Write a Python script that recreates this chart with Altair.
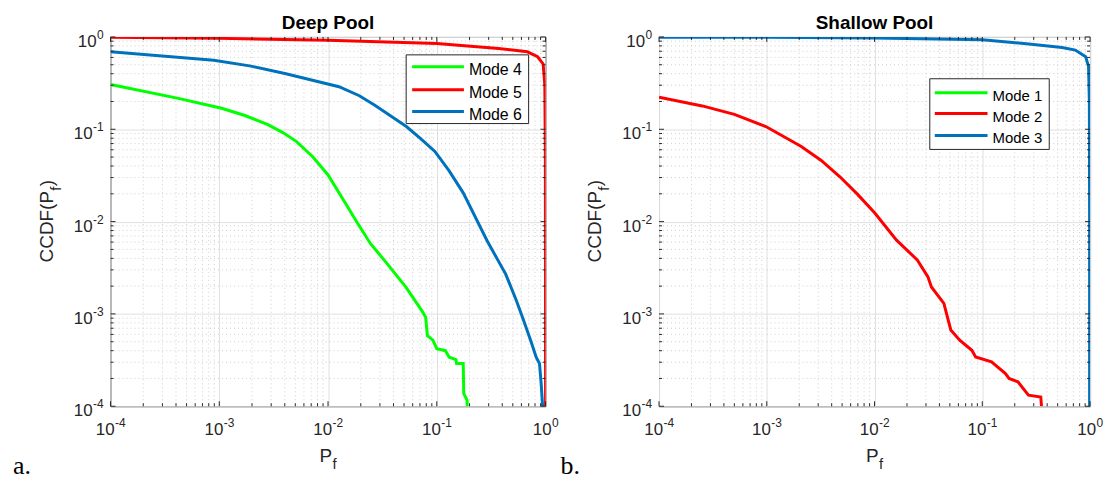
import altair as alt
import pandas as pd

# ---------------- data ----------------
DECADES = [1e-4, 1e-3, 1e-2, 1e-1, 1.0]
EXPONENTS = ["-4", "-3", "-2", "-1", "0"]
MINOR_STEPS = [2, 3, 4, 5, 6, 7, 8, 9]
MINOR = [m * d for d in DECADES[:-1] for m in MINOR_STEPS]

DEEP_TITLE = "Deep Pool"
SHALLOW_TITLE = "Shallow Pool"
DEEP_MODES = ["Mode 4", "Mode 5", "Mode 6"]
SHALLOW_MODES = ["Mode 1", "Mode 2", "Mode 3"]
MODE_COLORS = ["#00ff00", "#ff0000", "#0072bd"]

# Deep pool
mode4_pf = [1e-4, 4.2e-4, 1.05e-3, 1.72e-3, 2.8e-3, 3.84e-3, 5.1e-3, 7.2e-3, 1.0e-2, 1.46e-2,
            1.9e-2, 2.45e-2, 3.3e-2, 5.2e-2, 7.3e-2, 7.9e-2, 8.2e-2, 9.2e-2, 0.1, 0.12, 0.13,
            0.15, 0.152, 0.175, 0.177, 0.19, 0.19]
mode4_ccdf = [0.306, 0.216, 0.169, 0.141, 0.112, 0.092, 0.074, 0.0508, 0.032, 0.0155, 0.0093,
              0.0058, 0.0038, 0.00195, 0.00108, 0.00092, 0.00058, 0.00052, 0.00042, 0.0004,
              0.00034, 0.00032, 0.00029, 0.00029, 0.000137, 0.000116, 0.0001]
mode5_pf = [1e-4, 1e-3, 1e-2, 0.1, 0.37, 0.68, 0.845, 0.95, 0.985, 0.996, 0.999, 1.0]
mode5_ccdf = [0.99, 0.965, 0.92, 0.85, 0.75, 0.69, 0.61, 0.51, 0.30, 0.05, 0.001, 0.0001]
mode6_pf = [1e-4, 8.9e-4, 1.9e-3, 4.1e-3, 1.26e-2, 1.94e-2, 2.67e-2, 5.25e-2, 7.1e-2, 9.6e-2,
            0.129, 0.175, 0.29, 0.43, 0.54, 0.63, 0.73, 0.82, 0.88, 0.91, 0.94]
mode6_ccdf = [0.69, 0.56, 0.486, 0.40, 0.289, 0.231, 0.183, 0.107, 0.079, 0.0575, 0.0359,
              0.0205, 0.0062, 0.0027, 0.00139, 0.000846, 0.000515, 0.00034, 0.00029, 0.00018,
              0.0001]

# Shallow pool
mode2_pf = [1e-4, 2.52e-4, 5.0e-4, 9.8e-4, 2.09e-3, 3.2e-3, 4.77e-3, 7.0e-3, 1.01e-2, 1.6e-2,
            2.5e-2, 3.13e-2, 3.37e-2, 4.4e-2, 4.74e-2, 5.1e-2, 6.17e-2, 8.0e-2, 8.67e-2,
            0.1217, 0.164, 0.177, 0.214, 0.268, 0.349, 0.354]
mode2_ccdf = [0.222, 0.179, 0.145, 0.107, 0.065, 0.046, 0.0306, 0.0196, 0.0123, 0.0063,
              0.00383, 0.00252, 0.00196, 0.0013, 0.00093, 0.00067, 0.00052, 0.000404, 0.000342,
              0.000302, 0.000226, 0.0002, 0.000184, 0.000132, 0.000126, 0.0001]
mode3_pf = [1e-4, 1e-3, 1e-2, 0.1, 0.27, 0.55, 0.73, 0.91, 0.968, 0.985, 0.99, 0.99]
mode3_ccdf = [0.995, 0.99, 0.975, 0.93, 0.84, 0.77, 0.72, 0.61, 0.48, 0.2, 0.01, 0.0001]

# ---------------- styling ----------------
FONT = "Liberation Sans"
AX = "#262626"
ONE = pd.DataFrame({"k": [0]})
BASE_FS, EXP_FS = 17, 12
BASE_W = 18.9  # width of "10" at BASE_FS


def panel(title, modes, series, W, H, legend, letter, letter_x):
    xsc = alt.Scale(type="log", domain=[1e-4, 1], nice=False)
    ysc = alt.Scale(type="log", domain=[1e-4, 1], nice=False)
    common = dict(values=DECADES, title=None, ticks=False, tickSize=0, labels=False,
                  domain=False, grid=True, gridColor="#e0e0e0")
    xaxis = alt.Axis(**common)
    yaxis = alt.Axis(**common)

    rows = []
    for m, (xs, ys) in series.items():
        for i, (a, b) in enumerate(zip(xs, ys)):
            rows.append({"v": a, "w": b, "mode": m, "i": i})
    df = pd.DataFrame(rows)

    minor = pd.DataFrame({"v": MINOR, "w": MINOR})
    major = pd.DataFrame({"v": DECADES, "w": DECADES})
    X = alt.X("v:Q", scale=xsc, axis=xaxis)
    Y = alt.Y("w:Q", scale=ysc, axis=yaxis)

    layers = []
    grid = alt.Chart(minor).mark_rule(color="#cfcfcf", strokeWidth=1, strokeDash=[1, 3])
    layers.append(grid.encode(x=X, y=alt.value(0), y2=alt.value(H)))
    layers.append(grid.encode(y=Y, x=alt.value(0), x2=alt.value(W)))

    layers.append(
        alt.Chart(df).mark_line(strokeWidth=3, clip=True).encode(
            x=X,
            y=Y,
            color=alt.Color("mode:N", scale=alt.Scale(domain=modes, range=MODE_COLORS),
                            legend=None),
            order="i:Q",
        )
    )

    for d, L in ((major, 5), (minor, 3)):
        base = alt.Chart(d).mark_rule(color=AX, strokeWidth=1)
        layers += [
            base.encode(x=X, y=alt.value(H), y2=alt.value(H - L)),
            base.encode(x=X, y=alt.value(0), y2=alt.value(L)),
            base.encode(y=Y, x=alt.value(0), x2=alt.value(L)),
            base.encode(y=Y, x=alt.value(W), x2=alt.value(W - L)),
        ]

    # tick labels: "10" with a raised exponent
    labs = pd.DataFrame({"v": DECADES, "w": DECADES, "e": EXPONENTS})
    for sub, ew in ((labs.iloc[:4], 10.7), (labs.iloc[4:], 6.7)):
        shift = (BASE_W + ew) / 2 - ew
        tb = dict(font=FONT, fontSize=BASE_FS, color=AX, baseline="alphabetic")
        te = dict(font=FONT, fontSize=EXP_FS, color=AX, baseline="alphabetic")
        layers.append(alt.Chart(sub).mark_text(align="right", dx=shift, **tb).encode(
            x=X, y=alt.value(H + 29), text=alt.value("10")))
        layers.append(alt.Chart(sub).mark_text(align="left", dx=shift + 0.3, **te).encode(
            x=X, y=alt.value(H + 21), text="e:N"))
        layers.append(alt.Chart(sub).mark_text(align="right", dy=10, **tb).encode(
            y=Y, x=alt.value(-7 - ew - 0.3), text=alt.value("10")))
        layers.append(alt.Chart(sub).mark_text(align="right", dy=2, **te).encode(
            y=Y, x=alt.value(-7), text="e:N"))

    # legend box
    bx0, by0, bx1, by1, lx0, lx1, tx, rows_y, fs = legend
    layers.append(alt.Chart(ONE).mark_rect(fill="white", stroke=AX, strokeWidth=1).encode(
        x=alt.value(bx0), x2=alt.value(bx1), y=alt.value(by0), y2=alt.value(by1)))
    for m, c, yy in zip(modes, MODE_COLORS, rows_y):
        layers.append(alt.Chart(ONE).mark_rule(color=c, strokeWidth=3).encode(
            x=alt.value(lx0), x2=alt.value(lx1), y=alt.value(yy)))
        layers.append(alt.Chart(ONE).mark_text(align="left", baseline="alphabetic", font=FONT,
                                               fontSize=fs, color="#000000").encode(
            x=alt.value(tx), y=alt.value(yy + 8), text=alt.value(m)))

    # title
    layers.append(alt.Chart(ONE).mark_text(font=FONT, fontSize=19, fontWeight="bold",
                                           align="center", baseline="alphabetic",
                                           color="#000000").encode(
        x=alt.value(W / 2), y=alt.value(-8), text=alt.value(title)))

    # x title P_f
    px = W / 2 - 8.5
    layers.append(alt.Chart(ONE).mark_text(font=FONT, fontSize=19, align="left",
                                           baseline="alphabetic", color=AX).encode(
        x=alt.value(px), y=alt.value(H + 56), text=alt.value("P")))
    layers.append(alt.Chart(ONE).mark_text(font=FONT, fontSize=15, align="left",
                                           baseline="alphabetic", color=AX).encode(
        x=alt.value(px + 13), y=alt.value(H + 63), text=alt.value("f")))

    # y title CCDF(P_f), rotated
    y0 = H / 2 + 41
    for txt, fsz, xx, yy in (("CCDF(P", 19, -58, y0), ("f", 15, -50, y0 - 72),
                             (")", 19, -58, y0 - 76.5)):
        layers.append(alt.Chart(ONE).mark_text(font=FONT, fontSize=fsz, align="left",
                                               baseline="alphabetic", angle=270,
                                               color=AX).encode(
            x=alt.value(xx), y=alt.value(yy), text=alt.value(txt)))

    # panel letter
    layers.append(alt.Chart(ONE).mark_text(font="Liberation Serif", fontSize=26, align="left",
                                           baseline="alphabetic", color="#000000").encode(
        x=alt.value(letter_x), y=alt.value(H + 68), text=alt.value(letter)))

    return alt.layer(*layers).properties(width=W, height=H)


left = panel(
    DEEP_TITLE, DEEP_MODES,
    {"Mode 4": (mode4_pf, mode4_ccdf), "Mode 5": (mode5_pf, mode5_ccdf),
     "Mode 6": (mode6_pf, mode6_ccdf)},
    437, 371,
    (297, 18, 420, 87, 303, 355, 360, [30, 53, 75], 16),
    "a.", -98,
)
right = panel(
    SHALLOW_TITLE, SHALLOW_MODES,
    {"Mode 2": (mode2_pf, mode2_ccdf), "Mode 3": (mode3_pf, mode3_ccdf)},
    433, 371,
    (272, 42, 392, 113, 277, 330, 335, [56, 77, 99], 15),
    "b.", -99,
)

chart = alt.hconcat(left, right, spacing=114, bounds="flush").properties(
    padding={"left": 4, "top": 4, "right": 0, "bottom": 0}
).configure_view(stroke=AX, strokeWidth=1)

chart.save("out.html", embed_options={"renderer": "svg", "actions": False})
